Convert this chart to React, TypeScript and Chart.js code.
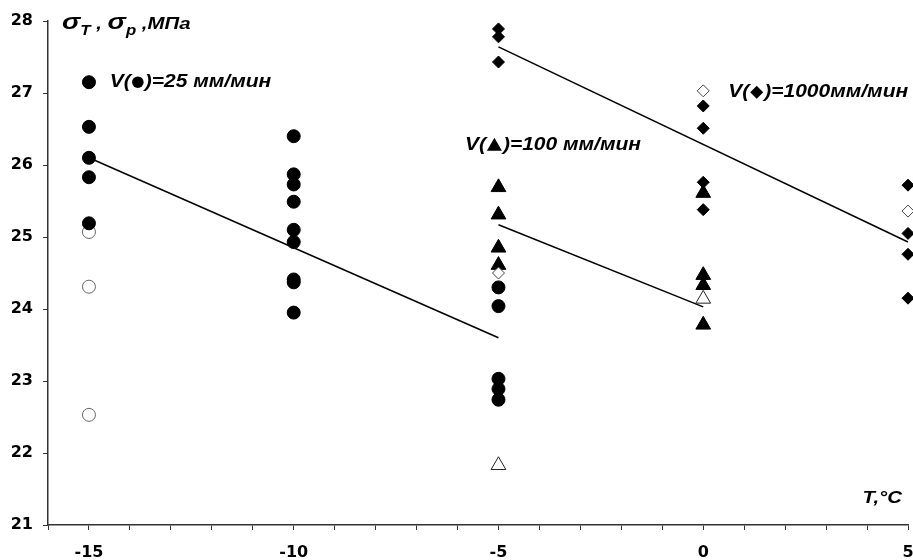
import React, { useEffect, useRef } from 'react';
import { Chart, registerables } from 'chart.js';

Chart.register(...registerables);

// ---- data ----
const xTickLabels = [-15, -10, -5, 0, 5];

// V = 25 mm/min, filled circles
const circleFilledX = [-15, -15, -15, -15, -15, -10, -10, -10, -10, -10, -10, -10, -10, -10, -5, -5, -5, -5, -5];
const circleFilledY = [27.15, 26.53, 26.1, 25.83, 25.19, 26.4, 25.87, 25.73, 25.49, 25.1, 24.93, 24.41, 24.37, 23.95, 24.3, 24.04, 23.03, 22.89, 22.74];
// V = 25 mm/min, hollow circles
const circleHollowX = [-15, -15, -15];
const circleHollowY = [25.07, 24.31, 22.53];

// V = 100 mm/min, filled triangles
const triFilledX = [-5, -5, -5, -5, 0, 0, 0, 0];
const triFilledY = [25.69, 25.31, 24.85, 24.61, 25.61, 24.47, 24.33, 23.78];
// V = 100 mm/min, hollow triangles
const triHollowX = [-5, 0];
const triHollowY = [21.83, 24.14];

// V = 1000 mm/min, filled diamonds
const diaFilledX = [-5, -5, -5, 0, 0, 0, 0, 5, 5, 5, 5];
const diaFilledY = [27.89, 27.78, 27.43, 26.82, 26.51, 25.76, 25.38, 25.72, 25.05, 24.76, 24.15];
// V = 1000 mm/min, hollow diamonds
const diaHollowX = [-5, 0, 5];
const diaHollowY = [24.5, 27.03, 25.36];

// trend lines
const trend25X = [-15, -5];
const trend25Y = [26.1, 23.6];
const trend100X = [-5, 0];
const trend100Y = [25.17, 24.03];
const trend1000X = [-5, 5];
const trend1000Y = [27.64, 24.93];

// in-plot labels: "V(" + symbol + suffix
const speedLabelSymbol = ['circle', 'triangle', 'diamond'];
const speedLabelSuffix = [')=25 мм/мин', ')=100 мм/мин', ')=1000мм/мин'];
const speedLabelX = [-14.49, -5.82, 0.61];
const speedLabelY = [27.15, 26.28, 27.01];

const FONT = "'Liberation Sans', Arial, sans-serif";
const TICK_FONT = "'DejaVu Sans', 'Liberation Sans', sans-serif";

const zip = (xs: number[], ys: number[]) => xs.map((x, i) => ({ x, y: ys[i] }));

const annotPlugin = {
  id: 'annot',
  afterDatasetsDraw(chart: any) {
    const { ctx, scales, chartArea } = chart;
    const xs = scales.x;
    const ys = scales.y;
    ctx.save();
    ctx.fillStyle = '#000';
    const SX = 1.2;
    const piece = (
      text: string,
      px: number,
      py: number,
      size: number,
      baseline: CanvasTextBaseline = 'alphabetic'
    ) => {
      ctx.save();
      ctx.font = `italic bold ${size}px ${FONT}`;
      ctx.textBaseline = baseline;
      ctx.textAlign = 'left';
      ctx.translate(px, py);
      ctx.scale(SX, 1);
      ctx.fillText(text, 0, 0);
      const w = ctx.measureText(text).width * SX;
      ctx.restore();
      return w;
    };
    const measure = (text: string, size: number) => {
      ctx.save();
      ctx.font = `italic bold ${size}px ${FONT}`;
      const w = ctx.measureText(text).width * SX;
      ctx.restore();
      return w;
    };
    const symbol = (kind: string, px: number, py: number) => {
      ctx.save();
      ctx.fillStyle = '#000';
      ctx.beginPath();
      let w = 12;
      if (kind === 'circle') {
        w = 12;
        ctx.arc(px + w / 2, py, 5.8, 0, Math.PI * 2);
      } else if (kind === 'triangle') {
        w = 15;
        ctx.moveTo(px + w / 2, py - 7);
        ctx.lineTo(px + w, py + 6);
        ctx.lineTo(px, py + 6);
        ctx.closePath();
      } else {
        w = 13;
        ctx.moveTo(px + w / 2, py - 6.5);
        ctx.lineTo(px + w, py);
        ctx.lineTo(px + w / 2, py + 6.5);
        ctx.lineTo(px, py);
        ctx.closePath();
      }
      ctx.fill();
      ctx.restore();
      return w;
    };

    // speed labels
    speedLabelSymbol.forEach((sym, i) => {
      let px = xs.getPixelForValue(speedLabelX[i]);
      const py = ys.getPixelForValue(speedLabelY[i]);
      px += piece('V(', px, py, 17.5, 'middle');
      px += 1;
      px += symbol(sym, px, py);
      px += 1;
      piece(speedLabelSuffix[i], px, py, 17.5, 'middle');
    });

    // y-axis title: σT , σp ,МПа
    let cx = chartArea.left + 14;
    const base = chartArea.top + 8;
    cx += piece('σ', cx, base, 23);
    cx += piece('T', cx, base + 6, 14);
    cx += piece(' , ', cx, base, 17);
    cx += piece('σ', cx, base, 23);
    cx += piece('p', cx, base + 6, 14);
    cx += piece(' ,МПа', cx, base, 17);

    // x-axis title
    const tTxt = 'T,°C';
    const tw = measure(tTxt, 17);
    piece(tTxt, chartArea.right - 6 - tw, ys.getPixelForValue(21) - 27, 17, 'middle');

    ctx.restore();
  },
};

export default function App() {
  const ref = useRef<HTMLCanvasElement | null>(null);

  useEffect(() => {
    document.body.style.margin = '0';
    const canvas = ref.current;
    if (!canvas) return;
    const chart = new Chart(canvas, {
      type: 'scatter',
      data: {
        datasets: [
          {
            type: 'line',
            data: zip(trend25X, trend25Y),
            borderColor: '#000',
            borderWidth: 1.5,
            pointRadius: 0,
            fill: false,
            clip: false,
            order: 10,
          },
          {
            type: 'line',
            data: zip(trend100X, trend100Y),
            borderColor: '#000',
            borderWidth: 1.5,
            pointRadius: 0,
            fill: false,
            clip: false,
            order: 10,
          },
          {
            type: 'line',
            data: zip(trend1000X, trend1000Y),
            borderColor: '#000',
            borderWidth: 1.5,
            pointRadius: 0,
            fill: false,
            clip: false,
            order: 10,
          },
          {
            data: zip(circleHollowX, circleHollowY),
            pointStyle: 'circle',
            pointRadius: 6.5,
            backgroundColor: '#fff',
            borderColor: '#666',
            borderWidth: 1,
            clip: false,
            order: 6,
          },
          {
            data: zip(circleFilledX, circleFilledY),
            pointStyle: 'circle',
            pointRadius: 6.5,
            backgroundColor: '#000',
            borderColor: '#000',
            borderWidth: 1,
            clip: false,
            order: 5,
          },
          {
            data: zip(triHollowX, triHollowY),
            pointStyle: 'triangle',
            pointRadius: 8.5,
            backgroundColor: '#fff',
            borderColor: '#222',
            borderWidth: 1,
            clip: false,
            order: 4,
          },
          {
            data: zip(triFilledX, triFilledY),
            pointStyle: 'triangle',
            pointRadius: 8.5,
            backgroundColor: '#000',
            borderColor: '#000',
            borderWidth: 1,
            clip: false,
            order: 3,
          },
          {
            data: zip(diaFilledX, diaFilledY),
            pointStyle: 'rectRot',
            pointRadius: 6,
            backgroundColor: '#000',
            borderColor: '#000',
            borderWidth: 1,
            clip: false,
            order: 2,
          },
          {
            data: zip(diaHollowX, diaHollowY),
            pointStyle: 'rectRot',
            pointRadius: 6,
            backgroundColor: '#fff',
            borderColor: '#444',
            borderWidth: 1,
            clip: false,
            order: 1,
          },
        ],
      },
      options: {
        animation: false,
        responsive: false,
        devicePixelRatio: 1,
        layout: { autoPadding: false, padding: { top: 21, right: 5, left: 0, bottom: 0 } },
        plugins: {
          legend: { display: false },
          tooltip: { enabled: false },
        },
        scales: {
          x: {
            type: 'linear',
            min: -16,
            max: 5,
            afterFit: (s: any) => {
              s.height = 35;
              s.paddingLeft = 0;
              s.paddingRight = 0;
            },
            ticks: {
              stepSize: 1,
              autoSkip: false,
              maxRotation: 0,
              padding: 13,
              color: '#000',
              font: { family: TICK_FONT, weight: 'bold', size: 16 },
              callback: (v: any) => (xTickLabels.includes(Number(v)) ? String(v) : ''),
            },
            grid: {
              display: true,
              drawOnChartArea: false,
              drawTicks: true,
              tickLength: 5,
              color: '#333',
              lineWidth: 1,
            },
            border: { display: true, color: '#333', width: 1.5 },
          },
          y: {
            type: 'linear',
            min: 21,
            max: 28,
            afterFit: (s: any) => {
              s.width = 48;
              s.paddingTop = 0;
              s.paddingBottom = 0;
            },
            ticks: {
              stepSize: 1,
              padding: 10,
              color: '#000',
              font: { family: TICK_FONT, weight: 'bold', size: 16 },
            },
            grid: {
              display: true,
              drawOnChartArea: false,
              drawTicks: true,
              tickLength: 5,
              color: '#333',
              lineWidth: 1,
            },
            border: { display: true, color: '#333', width: 1.5 },
          },
        },
      },
      plugins: [annotPlugin],
    } as any);
    return () => chart.destroy();
  }, []);

  return (
    <div style={{ width: 913, height: 560 }}>
      <canvas ref={ref} width={913} height={560} style={{ display: 'block' }} />
    </div>
  );
}
